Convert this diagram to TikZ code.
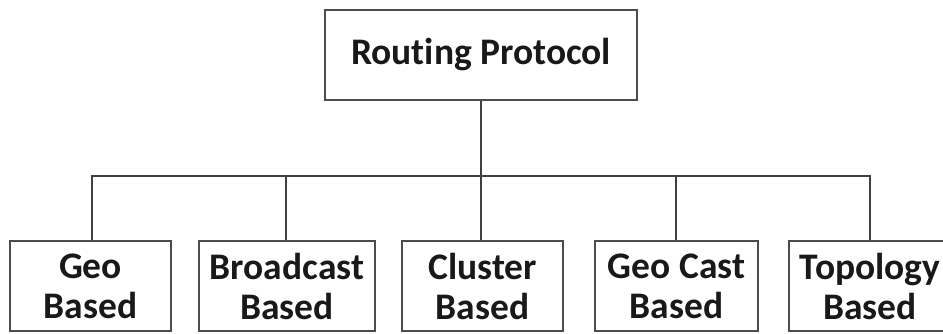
\documentclass[tikz,border=0pt]{standalone}
\usepackage{fontspec}
\setmainfont[Ligatures={NoCommon}]{Carlito}
\begin{document}
\begin{tikzpicture}[x=1pt,y=-1pt,
  box/.style={draw=black!70,line width=1.8pt,fill=white,rectangle,inner sep=0pt,
    minimum height=90pt,align=center,
    font=\fontsize{37.5}{40}\selectfont\bfseries,text=black!90},
  link/.style={draw=black!75,line width=1.8pt}]
\useasboundingbox (0,0) rectangle (943,333);
\clip (0,0) rectangle (943,333);
\fill[white] (0,0) rectangle (943,333);

% root
\node[box,minimum width=312pt] (root) at (481,55) {Routing Protocol};

% children
\node[box,minimum width=161pt] (geo) at (90.5,286) {Geo\\Based};
\node[box,minimum width=176pt] (bc) at (287,286) {Broadcast\\Based};
\node[box,minimum width=161pt] (cl) at (482.5,286) {Cluster\\Based};
\node[box,minimum width=163pt] (gc) at (676.5,286) {Geo Cast\\Based};
\node[box,minimum width=162pt] (topo) at (870,286) {Topology\\Based};

% tree connectors
\coordinate (j) at (481,176);
\draw[link] (root) -- (j);
\draw[link] (geo.north -| 92,0) |- (j);
\draw[link] (bc.north -| 286,0) |- (j);
\draw[link] (cl.north -| 481,0) -- (j);
\draw[link] (gc.north -| 676,0) |- (j);
\draw[link] (topo.north) |- (j);
\end{tikzpicture}
\end{document}
